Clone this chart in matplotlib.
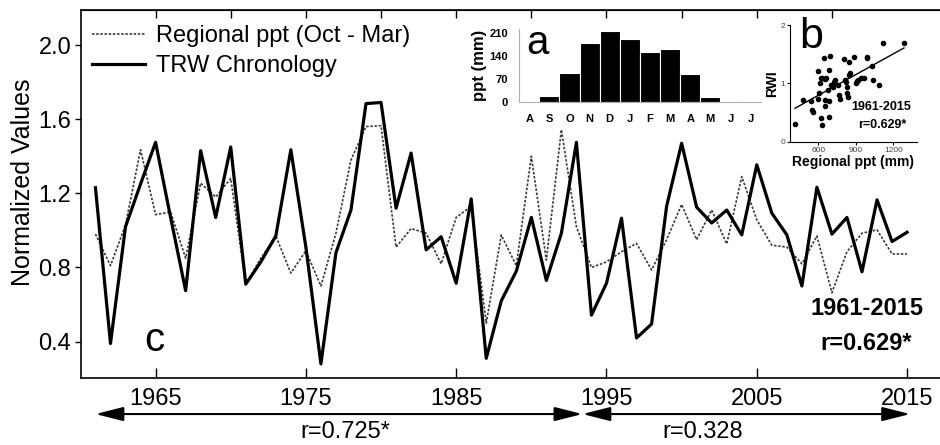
import numpy as np
import matplotlib
matplotlib.use('Agg')
import matplotlib.pyplot as plt

plt.rcParams['font.family'] = ['Liberation Sans', 'DejaVu Sans']

# main series (c)
years = list(range(1961, 2016))
trw = [1.23, 0.39, 1.02, 1.25, 1.475, 1.07, 0.675, 1.43, 1.07, 1.45,
       0.71, 0.83, 0.97, 1.435, 0.91, 0.28, 0.88, 1.11, 1.684, 1.69,
       1.12, 1.417, 0.895, 0.966, 0.715, 1.17, 0.31, 0.62, 0.78, 1.07,
       0.73, 0.985, 1.475, 0.543, 0.715, 1.066, 0.42, 0.495, 1.13, 1.47,
       1.125, 1.04, 1.11, 0.976, 1.354, 1.093, 0.976, 0.70, 1.233, 0.98,
       1.07, 0.777, 1.165, 0.94, 0.99]
ppt = [0.98, 0.81, 1.03, 1.435, 1.085, 1.10, 0.85, 1.255, 1.18, 1.28,
       0.71, 0.85, 0.97, 0.77, 0.89, 0.70, 0.985, 1.38, 1.56, 1.565,
       0.91, 1.01, 0.985, 0.82, 1.07, 1.13, 0.50, 0.975, 0.81, 1.40,
       0.84, 1.543, 1.02, 0.80, 0.83, 0.885, 0.93, 0.787, 0.95, 1.14,
       0.95, 1.11, 0.927, 1.29, 1.057, 0.92, 0.91, 0.82, 0.97, 0.664,
       0.885, 0.985, 1.003, 0.873, 0.873]

# periods with correlation
periods = [(1961, 1993.4), (1993.4, 2015.2)]
period_r = ['r=0.725*', 'r=0.328']
period_lbl_x = [1977.6, 2001.4]

# inset a: monthly precipitation
months = ['A', 'S', 'O', 'N', 'D', 'J', 'F', 'M', 'A', 'M', 'J', 'J']
month_ppt = [2, 18, 88, 180, 215, 191, 152, 161, 83, 14, 2, 1]

# inset b: scatter of regional ppt vs RWI
sc_ppt = [414, 480, 539, 547, 555, 595, 600, 608, 616, 624, 632, 624, 632,
          643, 651, 651, 654, 659, 677, 685, 685, 688, 696, 701, 715, 728,
          736, 755, 768, 774, 808, 816, 821, 827, 829, 835, 848, 848, 854,
          888, 901, 907, 920, 941, 968, 987, 990, 1030, 1040, 1088, 1120, 1285]
sc_rwi = [0.30, 0.71, 0.70, 0.54, 0.51, 1.22, 0.74, 0.83, 1.00, 1.10, 1.09,
          0.40, 0.28, 1.43, 1.07, 0.71, 0.61, 1.09, 0.89, 1.23, 0.69, 0.42,
          1.47, 0.97, 0.94, 1.03, 1.06, 0.97, 0.80, 0.73, 1.41, 1.06, 1.03,
          0.93, 0.84, 0.77, 1.36, 1.14, 1.17, 1.46, 1.00, 1.04, 1.06, 1.09,
          1.10, 1.45, 1.43, 1.29, 1.06, 0.97, 1.69, 1.69]

fig = plt.figure(figsize=(9.4, 4.45), dpi=100)

# ---- main panel
ax = fig.add_axes([0.0862, 0.1506, 0.9138, 0.827])
ax.plot(years, ppt, color='#3a3a3a', lw=1.2, linestyle=(0, (1.5, 1.0)),
        label='Regional ppt (Oct - Mar)')
ax.plot(years, trw, color='black', lw=2.3, label='TRW Chronology')
ax.set_xlim(1960.04, 2017.19)
ax.set_ylim(0.204, 2.189)
ax.set_yticks([0.4, 0.8, 1.2, 1.6, 2.0])
ax.set_xticks(range(1965, 2016, 10))
ax.tick_params(axis='y', direction='out', length=4, width=1, labelsize=17, pad=3)
ax.tick_params(axis='x', direction='in', length=7, width=1, labelsize=17, pad=7)
ax.spines['right'].set_visible(False)
for s in ['left', 'bottom', 'top']:
    ax.spines[s].set_linewidth(1.2)
ax.set_ylabel('Normalized Values', fontsize=18)
ax.yaxis.set_label_coords(-0.0535, 0.533)

top = ax.secondary_xaxis('top')
top.set_xticks(range(1965, 2011, 5))
top.tick_params(direction='in', length=6, width=1, labeltop=False)

ax.legend(loc='upper left', bbox_to_anchor=(0.0128, 0.958), frameon=False,
          fontsize=17, handlelength=2.25, handletextpad=0.45,
          labelspacing=0.32, borderaxespad=0, borderpad=0)

ax.text(1964.9, 0.41, 'c', fontsize=29, ha='center', va='center')
ax.text(2012.3, 0.578, '1961-2015', fontsize=17, fontweight='bold',
        ha='center', va='center')
ax.text(2012.3, 0.39, 'r=0.629*', fontsize=17, fontweight='bold',
        ha='center', va='center')

# arrows under the axis
tr = ax.get_xaxis_transform()
for (x0, x1), lbl, lx in zip(periods, period_r, period_lbl_x):
    ax.annotate('', xy=(x0, -0.098), xytext=(x1, -0.098), xycoords=tr,
                textcoords=tr, annotation_clip=False,
                arrowprops=dict(arrowstyle='<|-|>,head_length=17,head_width=4.3',
                                mutation_scale=1, color='black', lw=1.5,
                                shrinkA=0, shrinkB=0))
    ax.text(lx, -0.147, lbl, transform=tr, fontsize=17, ha='center',
            va='center', clip_on=False)

# ---- inset a
axa = fig.add_axes([0.5524, 0.7715, 0.2568, 0.1625])
xa = np.arange(len(months))
axa.bar(xa, month_ppt, width=1.0, color='black', edgecolor='white', lw=0.8)
axa.set_xlim(-0.5, 11.5)
axa.set_ylim(0, 220)
axa.set_yticks([0, 70, 140, 210])
axa.set_xticks(xa)
axa.set_xticklabels(months)
axa.tick_params(axis='both', length=0, labelsize=8)
axa.tick_params(axis='x', pad=9)
axa.tick_params(axis='y', pad=8)
for t in axa.get_xticklabels() + axa.get_yticklabels():
    t.set_fontweight('bold')
for s in ['top', 'right']:
    axa.spines[s].set_visible(False)
for s in ['left', 'bottom']:
    axa.spines[s].set_color('#b0b0b0')
    axa.spines[s].set_linewidth(0.8)
axa.set_ylabel('ppt (mm)', fontsize=12, fontweight='bold', labelpad=2)
axa.patch.set_alpha(0)
axa.text(0.43, 180, 'a', fontsize=29, ha='center', va='center')

# ---- inset b
axb = fig.add_axes([0.8404, 0.6816, 0.1348, 0.2622])
axb.scatter(sc_ppt, sc_rwi, s=9, color='black', zorder=3)
k, b0 = np.polyfit(sc_ppt, sc_rwi, 1)
fx = np.array([min(sc_ppt), max(sc_ppt)])
axb.plot(fx, k * fx + b0, color='black', lw=1.0)
axb.set_xlim(374, 1387)
axb.set_ylim(0, 2)
axb.set_xticks([600, 900, 1200])
axb.set_yticks([0, 1, 2])
axb.tick_params(axis='both', direction='out', length=2, width=0.8,
                labelsize=6, labelcolor='#444444', pad=1.5)
for s in ['top', 'right']:
    axb.spines[s].set_visible(False)
axb.set_xlabel('Regional ppt (mm)', fontsize=10, fontweight='bold', labelpad=1)
axb.set_ylabel('RWI', fontsize=10, fontweight='bold', labelpad=1)
axb.patch.set_alpha(0)
axb.text(541, 1.80, 'b', fontsize=31, ha='center', va='center')
axb.text(1102, 0.595, '1961-2015', fontsize=9, fontweight='bold',
         ha='center', va='center')
axb.text(1109, 0.286, 'r=0.629*', fontsize=9, fontweight='bold',
         ha='center', va='center')

fig.savefig('out.png', dpi=100)
